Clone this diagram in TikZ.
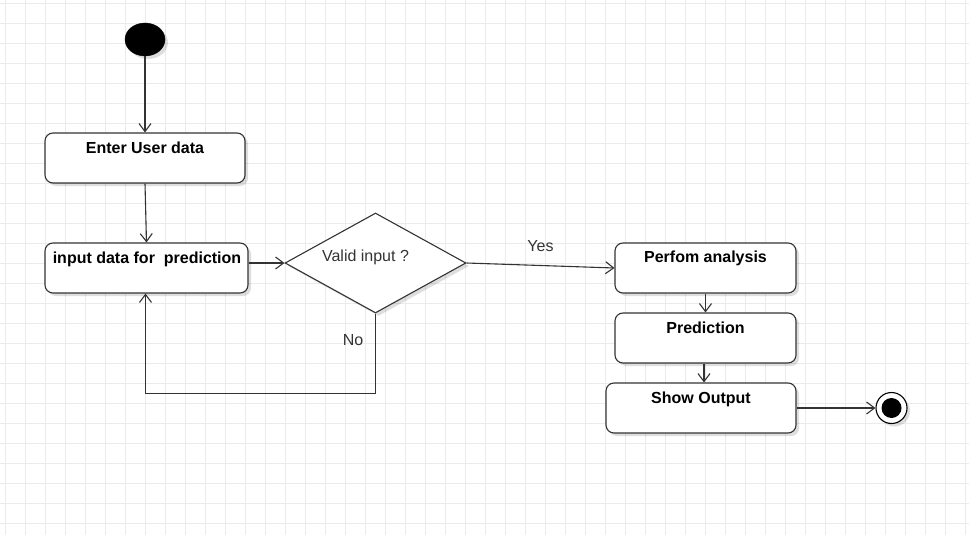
\documentclass[tikz,border=0pt]{standalone}
\usepackage{fontspec}
\setmainfont{Liberation Sans}
\usetikzlibrary{arrows.meta,shapes.geometric,shadows,calc}
\definecolor{gridc}{HTML}{EBEBEB}
\definecolor{linec}{HTML}{333333}
\definecolor{txtc}{HTML}{333333}
\begin{document}
\begin{tikzpicture}[x=1pt,y=-1pt,
  myshadow/.style={drop shadow={shadow xshift=3pt,shadow yshift=-3pt,opacity=0.13,fill=black}},
  actbox/.style={draw=linec,line width=1.1pt,rounded corners=8pt,fill=white,inner sep=0pt,myshadow},
  boldlbl/.style={font=\bfseries\fontsize{16}{19}\selectfont,text=black,inner sep=0pt,anchor=base},
  plainlbl/.style={font=\fontsize{16}{19}\selectfont,text=txtc,inner sep=0pt,anchor=base},
  arr/.style={draw=linec,line width=1.1pt,-{Straight Barb[length=8pt,width=12pt]}}]
\useasboundingbox (0,0) rectangle (969,535);
\fill[white] (0,0) rectangle (969,535);
\foreach \x in {5,25,...,965} \draw[gridc,line width=0.8pt] (\x,0) -- (\x,535);
\foreach \y in {3,23,...,523} \draw[gridc,line width=0.8pt] (0,\y) -- (969,\y);

% start / end
\node[ellipse,fill=black,draw=black,minimum width=40pt,minimum height=33pt,inner sep=0pt,myshadow] (start) at (145,39.5) {};
\node[circle,draw=black,line width=1.1pt,fill=white,minimum size=31pt,inner sep=0pt,myshadow] (end) at (891.5,408) {};
\node[circle,fill=black,minimum size=20pt,inner sep=0pt] (endin) at (end.center) {};

% activity boxes
\node[actbox,minimum width=200pt,minimum height=50pt] (enter) at (145,158) {};
\node[actbox,minimum width=203pt,minimum height=50pt] (input) at (146.5,268) {};
\node[actbox,minimum width=181pt,minimum height=50pt] (perform) at (705.5,268) {};
\node[actbox,minimum width=181pt,minimum height=50pt] (pred) at (705.5,338) {};
\node[actbox,minimum width=190pt,minimum height=50pt] (show) at (701,408) {};

% decision
\node[diamond,draw=linec,line width=1.1pt,fill=white,minimum width=181pt,minimum height=100pt,inner sep=0pt,myshadow] (dia) at (375.5,263) {};

% labels
\node[boldlbl] (tenter) at ($(enter.north)+(0,21)$) {Enter User data};
\node[boldlbl] (tinput) at ($(input.north)+(0.5,21)$) {input data for\ \ prediction};
\node[boldlbl] (tperform) at ($(perform.north)+(0,20)$) {Perfom analysis};
\node[boldlbl] (tpred) at ($(pred.north)+(0,21)$) {Prediction};
\node[boldlbl] (tshow) at ($(show.north)+(0,21)$) {Show Output};
\node[plainlbl] (tdia) at (365.5,261.7) {Valid input ?};
\node[plainlbl] (tno) at (353,345) {No};
\node[plainlbl] (tyes) at (540.5,251) {Yes};

% connectors
\draw[arr] (start.south) -- (enter.north);
\draw[arr] (enter.south) -- (input.north);
\draw[arr] (input.east |- dia.west) -- (dia.west);
\draw[arr] (dia.east) -- (perform.west);
\draw[arr] (dia.south) -- ++(0,80) -| ($(input.south)+(-1,0)$);
\draw[arr] (perform.south) -- (pred.north);
\draw[arr] ($(pred.south)+(-1.5,0)$) -- ($(show.north)+(3,0)$);
\draw[arr] (show.east) -- (end.west);
\end{tikzpicture}
\end{document}
